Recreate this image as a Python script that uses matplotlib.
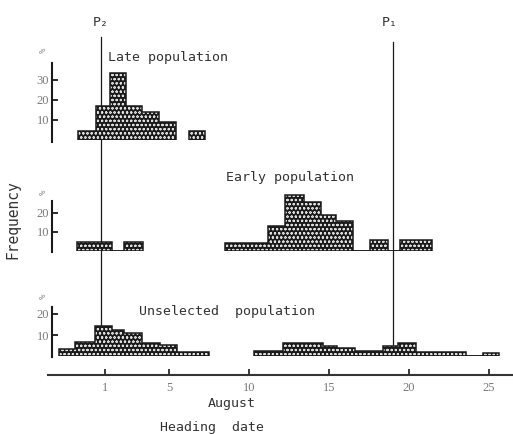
import matplotlib
matplotlib.use("Agg")
from matplotlib import pyplot as plt

# heading-date bins in days (1 = August 1, values below 1 are late July)
# and frequency in % for each bin; 0 means empty bin inside a run
late_edges_a = [-0.69, 0.44, 1.31, 2.31, 3.31, 4.38, 5.44]
late_pct_a = [4.5, 17, 33.5, 17, 14, 9]
late_edges_b = [6.25, 7.25]
late_pct_b = [4.5]

early_edges_a = [-0.75, 0.35, 1.44, 2.19, 3.38]
early_pct_a = [5, 5, 0, 5]
early_edges_b = [8.5, 11.19, 12.25, 13.44, 14.5, 15.44, 16.5, 17.56, 18.69, 19.44, 21.44]
early_pct_b = [4, 13, 29.5, 26, 19, 16, 0, 6, 0, 6]

unsel_edges_a = [-1.88, -0.88, 0.38, 1.44, 2.19, 3.31, 4.44, 5.5, 7.5]
unsel_pct_a = [3.3, 6.9, 14.5, 12.6, 11, 6.4, 5.2, 1.9]
unsel_edges_b = [10.31, 12.13, 14.63, 15.5, 16.63, 18.38, 19.31, 20.44, 23.56, 24.63, 25.63]
unsel_pct_b = [2.4, 6.2, 4.8, 3.8, 2.4, 4.8, 6.2, 2, 0, 1.5]

p2_date = 0.75
p1_date = 19.0
date_ticks = [1, 5, 10, 15, 20, 25]
late_yticks = [10, 20, 30]
early_yticks = [10, 20]
unsel_yticks = [10, 20]

W, H = 513, 434
INK = "#1a1a1a"
GREY = "#7a7a7a"
MONO = "DejaVu Sans Mono"
SERIF = "Liberation Serif"

plt.rcParams["hatch.linewidth"] = 0.5


def box(l, t, r, b):
    return [l / W, 1 - b / H, (r - l) / W, (b - t) / H]


def days(px):
    return (px - 89) / 16.0


def ftext(x, y, s, **kw):
    kw.setdefault("family", MONO)
    kw.setdefault("color", "#333333")
    kw.setdefault("fontsize", 9.5)
    fig.text(x / W, 1 - y / H, s, **kw)


def draw_run(ax, edges, pct):
    ax.stairs(pct, edges, baseline=0, fill=True, facecolor="#1a1a1a",
              edgecolor="#dddddd", linewidth=0, hatch="oooo")
    ax.stairs(pct, edges, baseline=0, fill=False, color=INK, linewidth=1.1)
    ax.hlines(0, edges[0], edges[-1], color=INK, lw=1.1)


def panel(rect, ymax, bounds, yticks, runs):
    ax = fig.add_axes(rect)
    ax.patch.set_visible(False)
    ax.set_xlim(days(52), days(513))
    ax.set_ylim(0, ymax)
    for s in ["top", "right", "bottom"]:
        ax.spines[s].set_visible(False)
    ax.spines["left"].set_bounds(*bounds)
    ax.spines["left"].set_linewidth(1.5)
    ax.spines["left"].set_color(INK)
    ax.set_xticks([])
    ax.set_yticks(yticks)
    ax.tick_params(axis="y", direction="in", length=4, width=1.3, color=INK,
                   labelsize=9, labelcolor=GREY, pad=2)
    for lab in ax.get_yticklabels():
        lab.set_family(SERIF)
    for edges, pct in runs:
        draw_run(ax, edges, pct)
    return ax


fig = plt.figure(figsize=(W / 100, H / 100), dpi=100)

# date axis (also carries the P lines behind the histograms)
base = fig.add_axes(box(48, 0, 513, 375))
base.patch.set_visible(False)
base.set_xlim(days(48), days(513))
base.set_ylim(0, 1)
for s in ["top", "right", "left"]:
    base.spines[s].set_visible(False)
base.spines["bottom"].set_linewidth(1.5)
base.spines["bottom"].set_color("#333333")
base.set_yticks([])
base.set_xticks(date_ticks)
base.tick_params(axis="x", direction="in", length=4, width=1.2, color=INK,
                 labelsize=9, labelcolor=GREY, pad=5)
for lab in base.get_xticklabels():
    lab.set_family(SERIF)
base.axvline(p2_date, ymin=0.061, ymax=0.901, color=INK, lw=0.9)
base.axvline(p1_date, ymin=0.067, ymax=0.888, color=INK, lw=0.9)

panel(box(52, 60, 513, 140), 40, (-1, 38.5), late_yticks,
      [(late_edges_a, late_pct_a), (late_edges_b, late_pct_b)])
panel(box(52, 194, 513, 251), 30, (-0.5, 26.3), early_yticks,
      [(early_edges_a, early_pct_a), (early_edges_b, early_pct_b)])
panel(box(52, 303.5, 513, 356), 25, (-0.5, 23.5), unsel_yticks,
      [(unsel_edges_a, unsel_pct_a), (unsel_edges_b, unsel_pct_b)])

ftext(101, 22, "P₂", ha="center", va="center")
ftext(390, 22, "P₁", ha="center", va="center")
ftext(108, 57, "Late population", va="center")
ftext(226, 177, "Early population", va="center")
ftext(139, 311, "Unselected  population", va="center")
ftext(208, 404, "August", va="center")
ftext(160, 427, "Heading  date", va="center")
ftext(13, 220, "Frequency", ha="center", va="center", rotation=90, fontsize=10.5)
for y in [50, 192, 296]:
    ftext(43, y, "%", ha="center", va="center", rotation=90, fontsize=6.5,
          color="#999999")

fig.savefig("out.png", dpi=100)
